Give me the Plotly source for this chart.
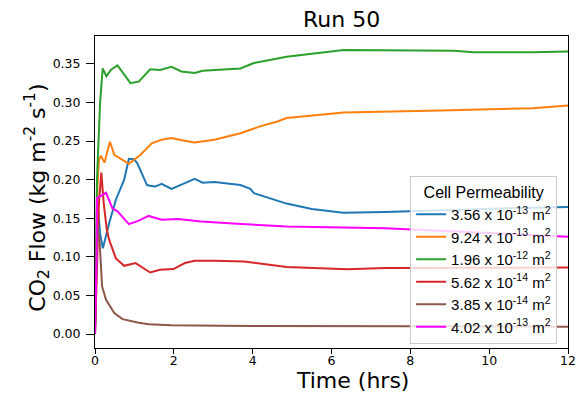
import plotly.graph_objects as go

names = ["3.56 x 10<sup>-13</sup> m<sup>2</sup>", "9.24 x 10<sup>-13</sup> m<sup>2</sup>",
         "1.96 x 10<sup>-12</sup> m<sup>2</sup>", "5.62 x 10<sup>-14</sup> m<sup>2</sup>",
         "3.85 x 10<sup>-14</sup> m<sup>2</sup>", "4.02 x 10<sup>-13</sup> m<sup>2</sup>"]
colors = ["#1f77b4", "#ff7f0e", "#2ca02c", "#d62728", "#8c564b", "#ff00ff"]

blue_t = [0, 0.04, 0.08, 0.13, 0.2, 0.36, 0.53, 0.74, 0.86, 0.99, 1.07, 1.19, 1.32, 1.4, 1.53, 1.69, 1.94, 2.28, 2.53, 2.73, 3.03, 3.69, 3.94, 4.03, 4.86, 5.5, 6.3, 7.36, 9.0, 10.5, 12.0]
blue_v = [0, 0.12, 0.16, 0.13, 0.111, 0.144, 0.174, 0.200, 0.227, 0.2266, 0.2214, 0.2085, 0.193, 0.192, 0.191, 0.1946, 0.188, 0.1955, 0.201, 0.196, 0.197, 0.193, 0.188, 0.1826, 0.169, 0.162, 0.157, 0.158, 0.161, 0.163, 0.1646]

orange_t = [0, 0.06, 0.1, 0.15, 0.24, 0.38, 0.49, 0.86, 1.15, 1.44, 1.69, 1.94, 2.24, 2.53, 3.03, 3.69, 4.19, 4.61, 4.86, 6.31, 8.77, 11.1, 12.0]
orange_v = [0, 0.19, 0.225, 0.231, 0.222, 0.249, 0.232, 0.2205, 0.232, 0.247, 0.2516, 0.254, 0.2507, 0.248, 0.2516, 0.260, 0.269, 0.275, 0.2797, 0.287, 0.2895, 0.2926, 0.296]

green_t = [0, 0.05, 0.13, 0.195, 0.29, 0.4, 0.57, 0.9, 1.11, 1.4, 1.65, 1.94, 2.19, 2.53, 2.73, 3.36, 3.69, 4.03, 4.61, 4.86, 6.31, 9.1, 9.6, 11.1, 12.0]
green_v = [0, 0.2, 0.3, 0.344, 0.334, 0.342, 0.348, 0.325, 0.327, 0.343, 0.342, 0.346, 0.340, 0.338, 0.341, 0.343, 0.344, 0.351, 0.356, 0.359, 0.368, 0.367, 0.365, 0.365, 0.366]

red_t = [0, 0.1, 0.16, 0.22, 0.3, 0.36, 0.53, 0.74, 1.03, 1.19, 1.4, 1.65, 1.99, 2.28, 2.53, 3.03, 3.78, 4.86, 6.4, 7.36, 12.0]
red_v = [0, 0.17, 0.209, 0.17, 0.135, 0.122, 0.098, 0.0884, 0.092, 0.0868, 0.0798, 0.0833, 0.0842, 0.092, 0.0949, 0.0949, 0.094, 0.0868, 0.084, 0.0855, 0.0862]

brown_t = [0, 0.06, 0.11, 0.18, 0.28, 0.49, 0.7, 1.11, 1.36, 1.94, 3.19, 4.86, 8.0, 12.0]
brown_v = [0, 0.14, 0.126, 0.0617, 0.0444, 0.0272, 0.0194, 0.0146, 0.0129, 0.0116, 0.0107, 0.0107, 0.0102, 0.0095]

mag_t = [0, 0.04, 0.05, 0.28, 0.44, 0.57, 0.86, 1.11, 1.36, 1.69, 2.11, 2.69, 3.61, 4.86, 7.36, 12.0]
mag_v = [0, 0.1, 0.176, 0.183, 0.163, 0.159, 0.1424, 0.147, 0.153, 0.148, 0.149, 0.1458, 0.1428, 0.1393, 0.137, 0.126]

x_ticks = [0, 2, 4, 6, 8, 10, 12]
y_ticks = [0, 0.05, 0.1, 0.15, 0.2, 0.25, 0.3, 0.35]

series = [(blue_t, blue_v), (orange_t, orange_v), (green_t, green_v),
          (red_t, red_v), (brown_t, brown_v), (mag_t, mag_v)]

fig = go.Figure()
for (t, v), n, c in zip(series, names, colors):
    fig.add_trace(go.Scatter(x=t, y=v, mode="lines", name=n,
                             line=dict(color=c, width=2)))

axis_common = dict(showline=True, linecolor="black", linewidth=1, mirror=True,
                   ticks="outside", tickcolor="black", showgrid=False,
                   zeroline=False, tickfont=dict(family="DejaVu Sans", size=12.5, color="black"))

title_font = dict(family="DejaVu Sans", size=22, color="black")

fig.update_layout(
    width=587, height=395,
    margin=dict(l=95, r=11, t=36, b=47),
    plot_bgcolor="white", paper_bgcolor="white",
    xaxis=dict(range=[0, 12], tickvals=x_ticks, ticklen=5, ticklabelstandoff=-4,
               **axis_common),
    yaxis=dict(range=[-0.018, 0.386], tickvals=y_ticks, tickformat=".2f", ticklen=8,
               ticklabelstandoff=3, **axis_common),
    legend=dict(title=dict(text="Cell Permeability", side="top center",
                           font=dict(family="Liberation Sans", size=16, color="black")),
                font=dict(family="Liberation Sans", size=15, color="black"),
                x=0.977, xanchor="right", y=0.012, yanchor="bottom",
                bgcolor="rgba(255,255,255,0.8)", bordercolor="#cccccc", borderwidth=1,
                tracegroupgap=0, itemwidth=30),
    annotations=[
        dict(text="Run 50", xref="paper", yref="paper", x=(346 - 95) / 481,
             y=(348.3 - 20) / 312, xanchor="center", yanchor="middle",
             showarrow=False, font=title_font),
        dict(text="Time (hrs)", xref="paper", yref="paper", x=(357 - 95) / 481,
             y=(348.3 - 381) / 312, xanchor="center", yanchor="middle",
             showarrow=False, font=title_font),
        dict(text="CO<sub>2</sub> Flow (kg m<sup>-2</sup> s<sup>-1</sup>)", xref="paper", yref="paper",
             x=(36 - 95) / 481, y=(348.3 - 198) / 312, xanchor="center", yanchor="middle",
             textangle=-90, showarrow=False, font=title_font),
    ],
)

fig.write_html("out.html")
